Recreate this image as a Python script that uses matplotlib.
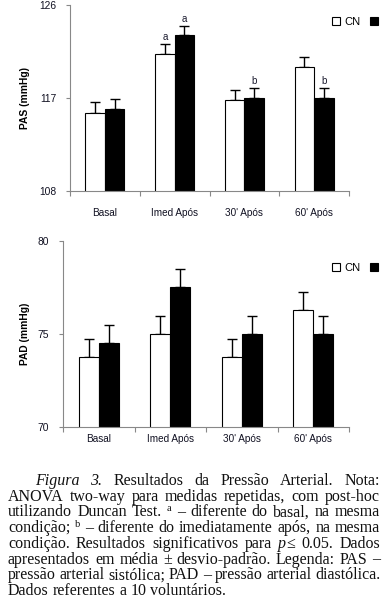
import matplotlib.pyplot as plt
from matplotlib.patches import Patch

categorias = ['Basal', 'Imed Após', "30' Após", "60' Após"]

# PAS (mmHg)
pas_cn = [115.55, 121.25, 116.8, 120.0]
pas_cn_dp = [1.05, 0.95, 0.95, 0.95]
pas_b = [115.95, 123.1, 117.0, 117.0]
pas_b_dp = [0.92, 0.85, 0.95, 0.95]
pas_letras_cn = ['', 'a', '', '']
pas_letras_b = ['', 'a', 'b', 'b']
pas_ticks = [108, 117, 126]

# PAD (mmHg)
pad_cn = [73.77, 75.0, 73.77, 76.29]
pad_cn_dp = [0.96, 0.95, 0.96, 0.96]
pad_b = [74.52, 77.52, 75.0, 75.0]
pad_b_dp = [0.95, 0.95, 0.95, 0.95]
pad_ticks = [70, 75, 80]

W, H = 385, 614
plt.rcParams['font.family'] = ['Liberation Sans', 'DejaVu Sans']
fig = plt.figure(figsize=(W / 100, H / 100), dpi=100)


def px(x, y):
    # pixel (a partir do canto superior esquerdo) -> fracao da figura
    return x / W, 1 - y / H


def grafico(ax, cn, cn_dp, b, b_dp, letras_cn, letras_b, ticks, ylabel, xpad, ylab_x, leg_y):
    w = 0.28
    xs_cn = [i - w / 2 for i in range(len(categorias))]
    xs_b = [i + w / 2 for i in range(len(categorias))]
    ax.bar(xs_cn, cn, w, color='white', edgecolor='black', linewidth=0.8, zorder=2)
    ax.bar(xs_b, b, w, color='black', edgecolor='black', linewidth=0.8, zorder=2)
    for xs, v, e in ((xs_cn, cn, cn_dp), (xs_b, b, b_dp)):
        ax.errorbar(xs, v, yerr=[[0] * len(v), e], fmt='none', ecolor='black',
                    elinewidth=1.0, capsize=3.5, capthick=1.0, zorder=1)
    for xs, v, e, l in ((xs_cn, cn, cn_dp, letras_cn), (xs_b, b, b_dp, letras_b)):
        for xi, vi, ei, li in zip(xs, v, e, l):
            if li:
                ax.annotate(li, (xi, vi + ei), xytext=(0, 1.5), textcoords='offset points',
                            ha='center', va='bottom', fontsize=7, color='#1a1a2e')

    ax.set_xlim(-0.5, len(categorias) - 0.5)
    ax.set_ylim(ticks[0], ticks[-1])
    ax.set_yticks(ticks)
    ax.set_xticks(range(len(categorias)))
    ax.set_xticklabels(categorias)
    ax.set_xticks([i - 0.5 for i in range(len(categorias) + 1)], minor=True)
    ax.tick_params(axis='x', which='major', length=0, pad=xpad, labelsize=7.2,
                   labelcolor='#111122')
    ax.tick_params(axis='x', which='minor', length=3.5, color='#888888', width=0.8)
    ax.tick_params(axis='y', length=3, color='#888888', width=0.8, pad=7, labelsize=7.4,
                   labelcolor='#111122')
    for s in ('top', 'right'):
        ax.spines[s].set_visible(False)
    for s in ('left', 'bottom'):
        ax.spines[s].set_color('#888888')
        ax.spines[s].set_linewidth(0.8)
    ax.set_ylabel(ylabel, fontsize=7.4, fontweight='bold')
    ax.yaxis.set_label_coords(ylab_x, 0.5)

    handles = [Patch(facecolor='white', edgecolor='black', linewidth=0.8),
               Patch(facecolor='black', edgecolor='black', linewidth=0.8)]
    ax.legend(handles, ['CN', ''], ncol=2, frameon=False, loc='center left',
              bbox_to_anchor=px(332, leg_y), bbox_transform=fig.transFigure,
              handlelength=0.7, handleheight=0.7, handletextpad=0.4,
              columnspacing=0.9, borderpad=0, borderaxespad=0, fontsize=8)


ax1 = fig.add_axes([70 / W, 1 - 191 / H, 279 / W, 186 / H])
grafico(ax1, pas_cn, pas_cn_dp, pas_b, pas_b_dp, pas_letras_cn, pas_letras_b,
        pas_ticks, 'PAS (mmHg)', 12, -0.143, 22)

ax2 = fig.add_axes([63.3 / W, 1 - 427.3 / H, 285.7 / W, 186.6 / H])
grafico(ax2, pad_cn, pad_cn_dp, pad_b, pad_b_dp, ['', '', '', ''], ['', '', '', ''],
        pad_ticks, 'PAD (mmHg)', 5, -0.117, 268)

# ---- legenda da figura (texto justificado) ----
serif = 'Liberation Serif'
R = dict()
I = dict(style='italic')
SUP = dict(size=7.5, dy=5)

linhas = [
    [[('Figura', I)], [('3.', I)], 'Resultados', 'da', 'Pressão', 'Arterial.', 'Nota:'],
    'ANOVA two-way para medidas repetidas, com post-hoc'.split(),
    ['utilizando', 'Duncan', 'Test.', [('a', SUP)], '–', 'diferente', 'do', 'basal,', 'na', 'mesma'],
    ['condição;', [('b', SUP)], '–', 'diferente', 'do', 'imediatamente', 'após,', 'na', 'mesma'],
    ['condição.', 'Resultados', 'significativos', 'para', [('p', I), ('≤', R)], '0.05.', 'Dados'],
    'apresentados em média ± desvio-padrão. Legenda: PAS –'.split(),
    'pressão arterial sistólica; PAD – pressão arterial diastólica.'.split(),
    'Dados referentes a 10 voluntários.'.split(),
]
base0, passo = 485, 15.7
x_esq, x_dir, x_ind = 8, 380, 35

fig.canvas.draw()
rend = fig.canvas.get_renderer()


def largura(txt, fs, style='normal'):
    t = fig.text(0, 0, txt, family=serif, fontsize=fs, style=style)
    wd = t.get_window_extent(renderer=rend).width
    t.remove()
    return wd


def tokens(tok):
    return [(tok, R)] if isinstance(tok, str) else tok


# maior tamanho de fonte que ainda deixa espacos razoaveis em todas as linhas
fs = 12.5
while fs > 9:
    ok = True
    for n, linha in enumerate(linhas[:-1]):
        x0 = x_ind if n == 0 else x_esq
        nat = sum(largura(t, st.get('size', fs), st.get('style', 'normal'))
                  for tk in linha for t, st in tokens(tk))
        if (x_dir - x0 - nat) / (len(linha) - 1) < 3.4:
            ok = False
            break
    if ok:
        break
    fs -= 0.1

espaco = largura('a a', fs) - 2 * largura('a', fs)

for n, linha in enumerate(linhas):
    y = base0 + n * passo
    x0 = x_ind if n == 0 else x_esq
    pals = []
    for tk in linha:
        p = []
        for txt, st in tokens(tk):
            t = fig.text(0, 0, txt, family=serif, fontsize=st.get('size', fs),
                         style=st.get('style', 'normal'), va='baseline', ha='left',
                         color='#111111')
            p.append((t, st.get('dy', 0), t.get_window_extent(renderer=rend).width))
        pals.append(p)
    larg = [sum(o[2] for o in p) for p in pals]
    if n < len(linhas) - 1:
        gap = (x_dir - x0 - sum(larg)) / (len(pals) - 1)
    else:
        gap = espaco
    x = x0
    for p, lw in zip(pals, larg):
        xx = x
        for t, dy, tw in p:
            t.set_position(px(xx, y - dy))
            xx += tw
        x += lw + gap

fig.savefig('out.png', dpi=100)
